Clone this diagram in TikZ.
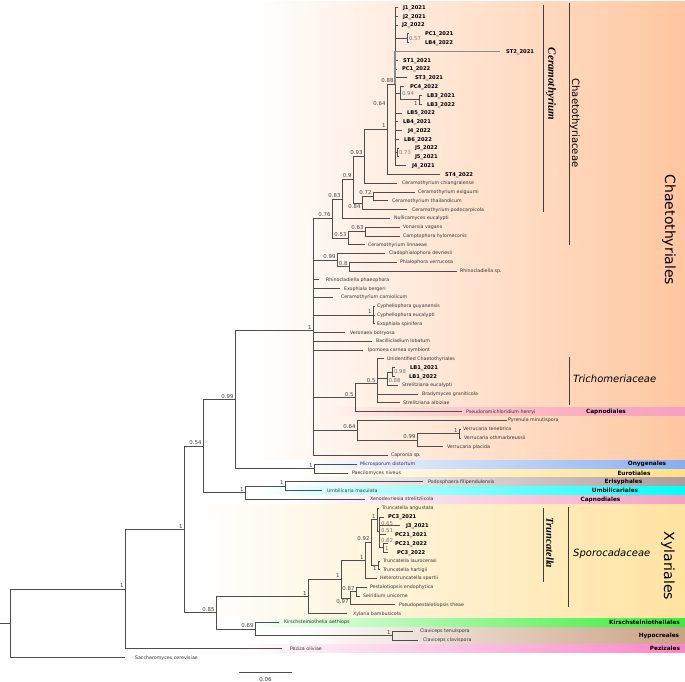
\documentclass[tikz,border=0pt]{standalone}
\usepackage{fontspec}
\setmainfont{DejaVu Sans}
\newfontfamily\lserif{Liberation Serif}
\usetikzlibrary{calc,fadings}
\definecolor{treeln}{HTML}{4D4D4D}
\definecolor{tiptx}{HTML}{333333}
\definecolor{suptx}{HTML}{444444}
\definecolor{grytx}{HTML}{7A7A7A}
\definecolor{bgChaet}{HTML}{FFC7A0}
\definecolor{bgXyl}{HTML}{FFE3A0}
\definecolor{cCapn}{HTML}{F7A0C4}
\definecolor{cOny}{HTML}{86AEF2}
\definecolor{cEur}{HTML}{FFE088}
\definecolor{cEry}{HTML}{AE9C9C}
\definecolor{cUmb}{HTML}{00FFFF}
\definecolor{cKir}{HTML}{35F035}
\definecolor{cHyp}{HTML}{C9A183}
\definecolor{cPez}{HTML}{FF85C8}
\tikzfading[name=fadeleft,left color=transparent!100,right color=transparent!0]
\tikzset{
  br/.style={draw=treeln,line width=0.75pt},
  brlight/.style={draw=black!45,line width=1.2pt},
  cladebar/.style={draw=black!75,line width=0.8pt},
  tipr/.style={font={\fontsize{4.75}{5.5}\selectfont},text=tiptx,inner sep=0pt,outer sep=0pt,yshift=-1.5pt},
  tipb/.style={font={\fontsize{5.2}{6}\selectfont\bfseries},text=black,inner sep=0pt,outer sep=0pt,yshift=-1.9pt},
  supv/.style={font={\fontsize{5.4}{6}\selectfont},text=suptx,inner sep=0pt,outer sep=0pt},
  supg/.style={font={\fontsize{5.4}{6}\selectfont},text=grytx,inner sep=0pt,outer sep=0pt},
  ordlab/.style={font={\fontsize{5.8}{6.5}\selectfont\bfseries},text=black,inner sep=0pt},
  famrot/.style={font={\fontsize{10}{11}\selectfont},rotate=-90,inner sep=0pt},
  famhor/.style={font={\fontsize{10}{11}\selectfont\itshape},inner sep=0pt,anchor=west},
  genrot/.style={font={\lserif\bfseries\itshape\fontsize{11}{12}\selectfont},rotate=-90,inner sep=0pt},
  bigrot/.style={font={\fontsize{14}{15}\selectfont},rotate=-90,inner sep=0pt}
}
\newcommand\tipN[6]{\coordinate (#1) at (#3,{7.5+8.784*#2});
  \node[#5,anchor=base west] (#1L) at (#4,{7.5+8.784*#2}) {#6};}
\newcommand\kids[2]{\foreach \k in {#2}{\draw[br] (#1) |- (\k);}}
\newcommand\slab[2]{\node[supv,anchor=south east] (s#1) at ($(#1)+(-1.5,-1.5)$) {#2};}
\newcommand\slabb[2]{\node[supv,anchor=north east] (s#1) at ($(#1)+(-1.5,1.5)$) {#2};}
\newcommand\sgr[2]{\node[supg,anchor=west] (g#1) at ($(#1)+(2,0)$) {#2};}
\begin{document}
\begin{tikzpicture}[x=1pt,y=-1pt]
\useasboundingbox (0,0) rectangle (685,682);
\fill[white] (0,0) rectangle (685,682);
% ---------- coloured regions ----------
\fill[bgChaet,path fading=fadeleft] (255,0) rectangle (685,459.9);
\fill[bgXyl,path fading=fadeleft] (200,503.8) rectangle (685,618);
\fill[cCapn,path fading=fadeleft] (330,407.2) rectangle (685,416);
\fill[cOny,path fading=fadeleft] (300,459.9) rectangle (685,468.7);
\fill[cEur,path fading=fadeleft] (300,468.7) rectangle (685,477.4);
\fill[cEry,path fading=fadeleft] (300,477.4) rectangle (685,486.2);
\fill[cUmb,path fading=fadeleft] (260,486.2) rectangle (685,495);
\fill[cCapn,path fading=fadeleft] (300,495) rectangle (685,503.8);
\fill[cKir,path fading=fadeleft] (240,618) rectangle (685,626.8);
\fill[cHyp,path fading=fadeleft] (300,626.8) rectangle (685,644.3);
\fill[cPez,path fading=fadeleft] (240,644.3) rectangle (685,653.1);
% ---------- tips ----------
\tipN{t0}{0}{398}{403}{tipb}{J1\_2021}
\tipN{t1}{1}{398}{403}{tipb}{J2\_2021}
\tipN{t2}{2}{398}{402}{tipb}{J2\_2022}
\tipN{t3}{3}{409}{425}{tipb}{PC1\_2021}
\tipN{t4}{4}{409}{425}{tipb}{LB4\_2022}
\tipN{t5}{5}{500}{506}{tipb}{ST2\_2021}
\tipN{t6}{6}{398}{403}{tipb}{ST1\_2021}
\tipN{t7}{7}{397}{402}{tipb}{PC1\_2022}
\tipN{t8}{8}{407}{415}{tipb}{ST3\_2021}
\tipN{t9}{9}{404}{410}{tipb}{PC4\_2022}
\tipN{t10}{10}{422}{427}{tipb}{LB3\_2021}
\tipN{t11}{11}{422}{427}{tipb}{LB3\_2022}
\tipN{t12}{12}{402}{407}{tipb}{LB5\_2022}
\tipN{t13}{13}{398}{403}{tipb}{LB4\_2021}
\tipN{t14}{14}{402}{408}{tipb}{J4\_2022}
\tipN{t15}{15}{399}{404}{tipb}{LB6\_2022}
\tipN{t16}{16}{399}{415}{tipb}{J5\_2022}
\tipN{t17}{17}{399}{415}{tipb}{J5\_2021}
\tipN{t18}{18}{406}{412}{tipb}{J4\_2021}
\tipN{t19}{19}{440}{445}{tipb}{ST4\_2022}
\tipN{t20}{20}{397}{402}{tipr}{Ceramothyrium chiangraiense}
\tipN{t21}{21}{415}{418}{tipr}{Ceramothyrium exiguumi}
\tipN{t22}{22}{388}{392}{tipr}{Ceramothyrium thailandicum}
\tipN{t23}{23}{407}{412}{tipr}{Ceramothyrium podocarpicola}
\tipN{t24}{24}{390}{394}{tipr}{Nullicamyces eucalypti}
\tipN{t25}{25}{400}{403}{tipr}{Vonarxia vagans}
\tipN{t26}{26}{400}{403}{tipr}{Camptophora hylomeconis}
\tipN{t27}{27}{365}{368}{tipr}{Ceramothyrium linnaeae}
\tipN{t28}{28}{385}{389}{tipr}{Cladophialophora devriesii}
\tipN{t29}{29}{397}{400}{tipr}{Phialophora verrucosa}
\tipN{t30}{30}{457}{460}{tipr}{Rhinocladiella sp.}
\tipN{t31}{31}{319}{326}{tipr}{Rhinocladiella phaeophora}
\tipN{t32}{32}{340}{344}{tipr}{Exophiala bergeri}
\tipN{t33}{33}{333}{341}{tipr}{Ceramothyrium carniolicum}
\tipN{t34}{34}{375}{377}{tipr}{Cyphellophora guyanensis}
\tipN{t35}{35}{375}{377}{tipr}{Cyphellophora eucalypti}
\tipN{t36}{36}{375}{377}{tipr}{Exophiala spinifera}
\tipN{t37}{37}{345}{350}{tipr}{Veronaea botryosa}
\tipN{t38}{38}{372}{376}{tipr}{Bacillicladium lobatum}
\tipN{t39}{39}{363}{368}{tipr}{Ipomoea carnea symbiont}
\tipN{t40}{40}{384}{387}{tipr}{Unidentified Chaetothyriales}
\tipN{t41}{41}{395}{410}{tipb}{LB1\_2021}
\tipN{t42}{42}{395}{409}{tipb}{LB1\_2022}
\tipN{t43}{43}{398}{402}{tipr}{Strelitziana eucalypti}
\tipN{t44}{44}{418}{422}{tipr}{Bradymyces graniticola}
\tipN{t45}{45}{400}{403}{tipr}{Strelitziana albiziae}
\tipN{t46}{46}{462}{466}{tipr}{Pseudoramichloridium henryi}
\tipN{t47}{47}{507}{508}{tipr}{Pyrenula minutispora}
\tipN{t48}{48}{461}{463}{tipr}{Verrucaria tenebrica}
\tipN{t49}{49}{461}{464}{tipr}{Verrucaria othmarbreussii}
\tipN{t50}{50}{443}{447}{tipr}{Verrucaria placida}
\tipN{t51}{51}{388}{391}{tipr}{Capronia sp.}
\tipN{t52}{52}{357}{360}{tipr}{Microsporum distortum}
\tipN{t53}{53}{348}{352}{tipr}{Paecilomyces niveus}
\tipN{t54}{54}{423}{428}{tipr}{Podosphaera filipendulensis}
\tipN{t55}{55}{322}{327}{tipr}{Umbilicaria maculata}
\tipN{t56}{56}{365}{370}{tipr}{Xenodevriesia strelitziicola}
\tipN{t57}{57}{379}{382}{tipr}{Truncatella angustata}
\tipN{t58}{58}{384}{388}{tipb}{PC3\_2021}
\tipN{t59}{59}{400}{406}{tipb}{J3\_2021}
\tipN{t60}{60}{386}{395}{tipb}{PC21\_2021}
\tipN{t61}{61}{388}{395}{tipb}{PC21\_2022}
\tipN{t62}{62}{388}{397}{tipb}{PC3\_2022}
\tipN{t63}{63}{380}{383}{tipr}{Truncatella laurocerasi}
\tipN{t64}{64}{380}{383}{tipr}{Truncatella hartigii}
\tipN{t65}{65}{377}{380}{tipr}{Heterotruncatella spartii}
\tipN{t66}{66}{367}{370}{tipr}{Pestalotiopsis endophytica}
\tipN{t67}{67}{360}{363}{tipr}{Seiridium unicorne}
\tipN{t68}{68}{395}{399}{tipr}{Pseudopestalotiopsis theae}
\tipN{t69}{69}{347}{353}{tipr}{Xylaria bambusicola}
\tipN{t70}{70}{279}{284}{tipr}{Kirschsteiniothelia aethiops}
\tipN{t71}{71}{413}{420}{tipr}{Claviceps tenuispora}
\tipN{t72}{72}{418}{423}{tipr}{Claviceps clavispora}
\tipN{t73}{73}{282}{290}{tipr}{Peziza oliviae}
\tipN{t74}{74}{125}{135}{tipr}{Saccharomyces cerevisiae}
% ---------- internal nodes ----------
\coordinate (rootstub) at (0,623.3);
\coordinate (root) at (10,623.3);
\coordinate (n1a) at (125,589.1);
\coordinate (n1b) at (184,529.5);
\coordinate (n054) at (203,446.3);
\coordinate (n099a) at (235,399.8);
\coordinate (nC) at (313,330.6);
\coordinate (n076) at (332,218.5);
\coordinate (n083) at (342,198.9);
\coordinate (n09) at (353,179.5);
\coordinate (n093) at (364,156);
\coordinate (n1c) at (387,129.3);
\coordinate (n088) at (395,84.1);
\coordinate (n057) at (407,38.3);
\coordinate (n094) at (400,93.2);
\coordinate (n1lb3) at (419,99.7);
\coordinate (n073) at (397,152.4);
\coordinate (n084) at (362,203);
\coordinate (n072) at (373,196.4);
\coordinate (n053) at (348,238.1);
\coordinate (n063) at (365,231.5);
\coordinate (n099b) at (337,260);
\coordinate (n08) at (349,266.6);
\coordinate (ncyp) at (373,314.9);
\coordinate (ntri) at (355,397.6);
\coordinate (n05b) at (377,383.6);
\coordinate (n088b) at (387,378.6);
\coordinate (n098) at (392,372);
\coordinate (n064b) at (357,430.2);
\coordinate (n099c) at (417,440.1);
\coordinate (n1v) at (459,433.5);
\coordinate (nony) at (314,468.7);
\coordinate (nE1) at (245,492.8);
\coordinate (nE2) at (285,486.2);
\coordinate (n085) at (216,612.7);
\coordinate (nX) at (308,596.5);
\coordinate (nS) at (341,579.4);
\coordinate (nT) at (365,560.5);
\coordinate (nTr) at (371,542.5);
\coordinate (nA) at (377,519.6);
\coordinate (nB) at (379,531);
\coordinate (nD) at (383,547.7);
\coordinate (nL) at (378,565.3);
\coordinate (nP) at (350,598.2);
\coordinate (nE) at (356,591.6);
\coordinate (n069) at (255,629);
\coordinate (nclav) at (392,635.6);
% ---------- branches ----------
\draw[br] (rootstub) -- (root);
\kids{root}{n1a,t74}
\kids{n1a}{n1b,t73}
\kids{n1b}{n054,n085}
\kids{n054}{n099a,nE1}
\kids{n099a}{nC,nony}
\kids{nC}{n076,n099b,t31,t32,t33,ncyp,t37,t38,t39,ntri,n064b,t51}
\kids{n076}{n083,n053}
\kids{n083}{n09,t24}
\kids{n09}{n093,n084}
\kids{n093}{n1c,t20}
\kids{n1c}{n088,t19}
\kids{n088}{t0,t1,t2,n057,t6,t7,t8,n094,t12,t13,t14,t15,n073,t18}
\draw[brlight] (n088) |- (t5);
\kids{n057}{t3,t4}
\kids{n094}{t9,n1lb3}
\kids{n1lb3}{t10,t11}
\kids{n073}{t16,t17}
\kids{n084}{n072,t23}
\kids{n072}{t21,t22}
\kids{n053}{n063,t27}
\kids{n063}{t25,t26}
\kids{n099b}{t28,n08}
\kids{n08}{t29,t30}
\kids{ncyp}{t34,t35,t36}
\kids{ntri}{n05b,t46}
\kids{n05b}{t40,n088b,t44,t45}
\kids{n088b}{n098,t43}
\kids{n098}{t41,t42}
\kids{n064b}{t47,n099c}
\kids{n099c}{n1v,t50}
\kids{n1v}{t48,t49}
\kids{nony}{t52,t53}
\kids{nE1}{nE2,t56}
\kids{nE2}{t54,t55}
\kids{n085}{nX,n069}
\kids{nX}{nS,t69}
\kids{nS}{nT,nP}
\kids{nT}{nTr,t65}
\kids{nTr}{nA,nL}
\kids{nA}{t57,nB}
\kids{nB}{t58,t59,t60,nD}
\kids{nD}{t61,t62}
\kids{nL}{t63,t64}
\kids{nP}{nE,t68}
\kids{nE}{t66,t67}
\kids{n069}{t70,nclav}
\kids{nclav}{t71,t72}
% ---------- support values ----------
\slab{n1a}{1}
\slab{n1b}{1}
\slab{n054}{0.54}
\slab{n099a}{0.99}
\slab{nC}{1}
\slab{n076}{0.76}
\slab{n083}{0.83}
\slab{n09}{0.9}
\slab{n093}{0.93}
\slab{n1c}{1}
\slab{n088}{0.88}
\slab{n072}{0.72}
\slab{n053}{0.53}
\slab{n063}{0.63}
\slab{n099b}{0.99}
\slab{n08}{0.8}
\slab{ncyp}{1}
\slab{ntri}{0.5}
\slab{n05b}{0.5}
\slab{n064b}{0.64}
\slab{n099c}{0.99}
\slab{n1v}{1}
\slab{nony}{1}
\slab{nE1}{1}
\slab{nE2}{1}
\slab{n085}{0.85}
\slab{nX}{1}
\slab{nS}{1}
\slab{nT}{1}
\slab{nTr}{0.92}
\slab{nA}{1}
\slab{nE}{0.87}
\slab{n069}{0.69}
\slab{nclav}{1}
\slabb{n084}{0.84}
\slabb{nP}{0.97}
\slabb{n1lb3}{1}
\slabb{nL}{1}
\node[supv,anchor=south east] (s064x) at (385.5,106) {0.64};
\sgr{n057}{0.57}
\sgr{n094}{0.94}
\sgr{n073}{0.73}
\sgr{n098}{0.98}
\node[supg,anchor=west] (gn088b) at (388.5,381) {0.88};
\node[supg,anchor=west] (gB1) at (381,523.5) {0.65};
\node[supg,anchor=west] (gB2) at (381,531) {0.51};
\node[supg,anchor=west] (gB3) at (381,540.5) {0.82};
\node[supg,anchor=west] (gD) at (385,549) {1};
% ---------- clade bars and names ----------
\coordinate (cerT) at (543,5);   \coordinate (cerB) at (543,212);
\coordinate (chyT) at (569,3);   \coordinate (chyB) at (569,245);
\coordinate (triT) at (569,357); \coordinate (triB) at (569,405);
\coordinate (truT) at (543,508); \coordinate (truB) at (543,582);
\coordinate (spoT) at (568,507); \coordinate (spoB) at (568,607);
\draw[cladebar] (cerT) -- (cerB);
\draw[cladebar] (chyT) -- (chyB);
\draw[cladebar] (triT) -- (triB);
\draw[cladebar] (truT) -- (truB);
\draw[cladebar] (spoT) -- (spoB);
\node[genrot] (lCer) at (551,84) {Ceramothyrium};
\node[famrot] (lChy) at (575,123) {Chaetothyriaceae};
\node[bigrot] (lCha) at (669,230) {Chaetothyriales};
\node[famhor] (lTri) at (573,379) {Trichomeriaceae};
\node[genrot,font={\lserif\bfseries\itshape\fontsize{10.5}{11}\selectfont}] (lTru) at (550,543) {Truncatella};
\node[famhor] (lSpo) at (573,554) {Sporocadaceae};
\node[bigrot] (lXyl) at (668,566) {Xylariales};
% ---------- order labels ----------
\node[ordlab] (oCap1) at (606,411.6) {Capnodiales};
\node[ordlab] (oOny) at (647,464.3) {Onygenales};
\node[ordlab] (oEur) at (634,473) {Eurotiales};
\node[ordlab] (oEry) at (623.5,481.8) {Erisyphales};
\node[ordlab] (oUmb) at (615,490.6) {Umbilicariales};
\node[ordlab] (oCap2) at (600.5,499.4) {Capnodiales};
\node[ordlab] (oKir) at (644.5,622.4) {Kirschsteiniotheliales};
\node[ordlab] (oHyp) at (659,635.6) {Hypocreales};
\node[ordlab] (oPez) at (665,648.7) {Pezizales};
% ---------- scale bar ----------
\coordinate (sbL) at (239,672);
\coordinate (sbR) at (292,672);
\draw[br] (sbL) -- (sbR);
\node[supv,text=tiptx] (sbT) at (265.5,680) {0.06};
\end{tikzpicture}
\end{document}
